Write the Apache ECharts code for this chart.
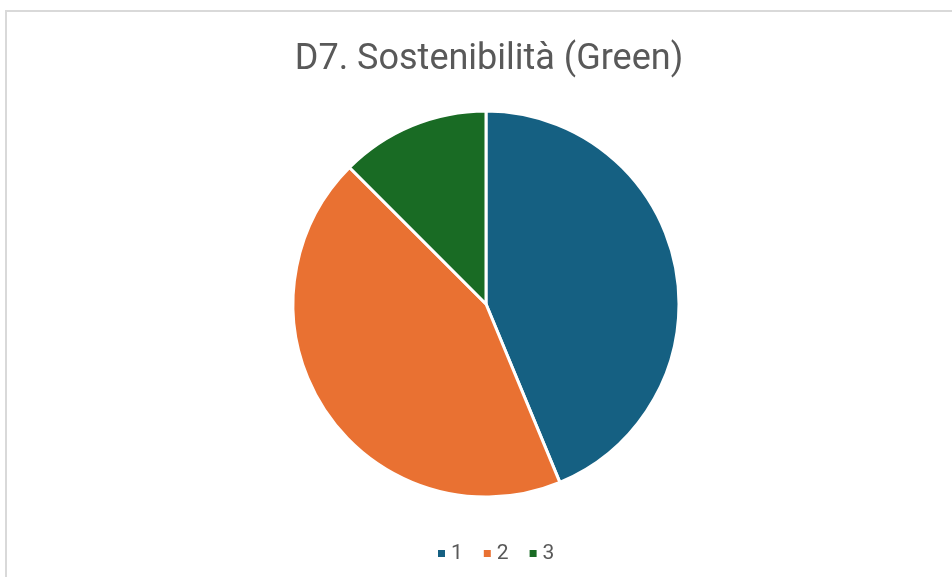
<!DOCTYPE html>
<html lang="it">
<head>
    <meta charset="utf-8">
    <title>D7. Sostenibilità (Green)</title>
    <script src="https://cdn.jsdelivr.net/npm/echarts@6/dist/echarts.min.js"></script>
    <style>
        html, body { margin: 0; padding: 0; background: #fff; }
        #main { width: 952px; height: 577px; }
    </style>
</head>
<body>
<div id="main"></div>
<script type="text/javascript">
    // dati
    var categories = ['1', '2', '3'];
    var values = [7, 7, 2];
    var colors = ['#156082', '#E97132', '#196B24'];

    var myChart = echarts.init(document.getElementById('main'));

    var pieData = categories.map(function (c, i) {
        return { name: c, value: values[i], itemStyle: { color: colors[i] } };
    });

    var option = {
        backgroundColor: '#fff',
        animation: false,
        title: {
            text: 'D7. Sostenibilità (Green)',
            left: 484,
            textAlign: 'center',
            top: 37,
            textStyle: {
                fontFamily: 'Roboto',
                fontSize: 36,
                fontWeight: 'normal',
                color: '#595959'
            }
        },
        graphic: [{
            type: 'rect',
            shape: { x: 6, y: 11, width: 960, height: 580 },
            style: { fill: 'none', stroke: '#d9d9d9', lineWidth: 2 },
            silent: true
        }],
        legend: {
            data: categories,
            left: 431,
            top: 538,
            icon: 'rect',
            itemWidth: 9,
            itemHeight: 9,
            itemGap: 19,
            textStyle: { fontFamily: 'Roboto', fontSize: 21, color: '#595959' }
        },
        series: [{
            type: 'pie',
            center: [486, 304],
            radius: 193,
            startAngle: 90,
            clockwise: true,
            label: { show: false },
            labelLine: { show: false },
            itemStyle: { borderColor: '#fff', borderWidth: 3 },
            data: pieData
        }]
    };
    myChart.setOption(option);
</script>
</body>
</html>
